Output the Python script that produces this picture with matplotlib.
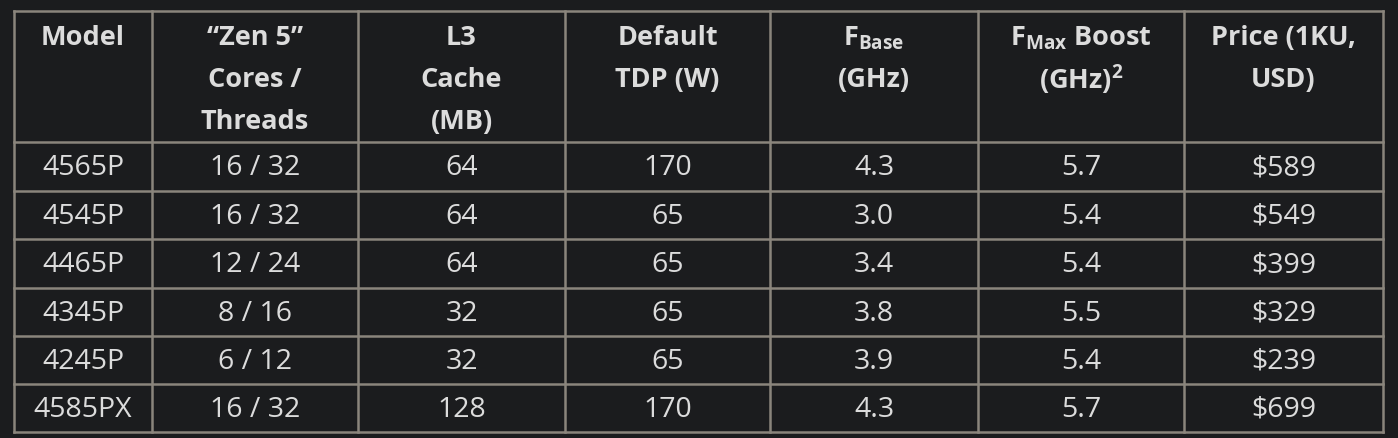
import matplotlib
matplotlib.use("Agg")
import matplotlib.pyplot as plt

plt.rcParams['font.family'] = ['Open Sans', 'DejaVu Sans']
plt.rcParams['mathtext.fontset'] = 'custom'
plt.rcParams['mathtext.rm'] = 'Open Sans'
plt.rcParams['mathtext.bf'] = 'Open Sans:bold'

headers = [
    ["Model"],
    ["“Zen 5”", "Cores /", "Threads"],
    ["L3", "Cache", "(MB)"],
    ["Default", "TDP (W)"],
    [r"$\mathbf{F}_{\mathbf{Base}}$", "(GHz)"],
    [r"$\mathbf{F}_{\mathbf{Max}}$ Boost", r"(GHz)$^{\mathbf{2}}$"],
    ["Price (1KU,", "USD)"],
]
models = ["4565P", "4545P", "4465P", "4345P", "4245P", "4585PX"]
cores = ["16 / 32", "16 / 32", "12 / 24", "8 / 16", "6 / 12", "16 / 32"]
l3 = ["64", "64", "64", "32", "32", "128"]
tdp = ["170", "65", "65", "65", "65", "170"]
fbase = ["4.3", "3.0", "3.4", "3.8", "3.9", "4.3"]
fmax = ["5.7", "5.4", "5.4", "5.5", "5.4", "5.7"]
price = ["$589", "$549", "$399", "$329", "$239", "$699"]
columns = [models, cores, l3, tdp, fbase, fmax, price]

W, H = 1398, 439
col_edges = [14, 152, 358, 565, 770, 978, 1184, 1383]
row_edges = [12, 143, 192, 240, 289, 337, 385, 433]
bg = '#1b1c1e'
line_c = '#8a857c'
txt_c = '#dcdcdc'

fig = plt.figure(figsize=(W / 100, H / 100), dpi=100, facecolor=bg)
ax = fig.add_axes([0, 0, 1, 1])
ax.set_xlim(0, W)
ax.set_ylim(H, 0)
ax.axis('off')
ax.set_facecolor(bg)

for x in col_edges:
    ax.plot([x, x], [row_edges[0], row_edges[-1]], color=line_c, lw=1.8, solid_capstyle='projecting')
for y in row_edges:
    ax.plot([col_edges[0], col_edges[-1]], [y, y], color=line_c, lw=1.8, solid_capstyle='projecting')

for i, h in enumerate(headers):
    cx = (col_edges[i] + col_edges[i + 1]) / 2
    for j, line in enumerate(h):
        ax.text(cx, 38 + 42 * j, line, ha='center', va='center',
                color=txt_c, fontsize=19.5, fontweight='bold')

for i, col in enumerate(columns):
    cx = (col_edges[i] + col_edges[i + 1]) / 2
    for r, val in enumerate(col):
        cy = (row_edges[r + 1] + row_edges[r + 2]) / 2 + 1
        ax.text(cx, cy, val.replace('$', r'\$'), ha='center', va='center',
                color=txt_c, fontsize=20.5)

fig.savefig('out.png', dpi=100, facecolor=bg)
